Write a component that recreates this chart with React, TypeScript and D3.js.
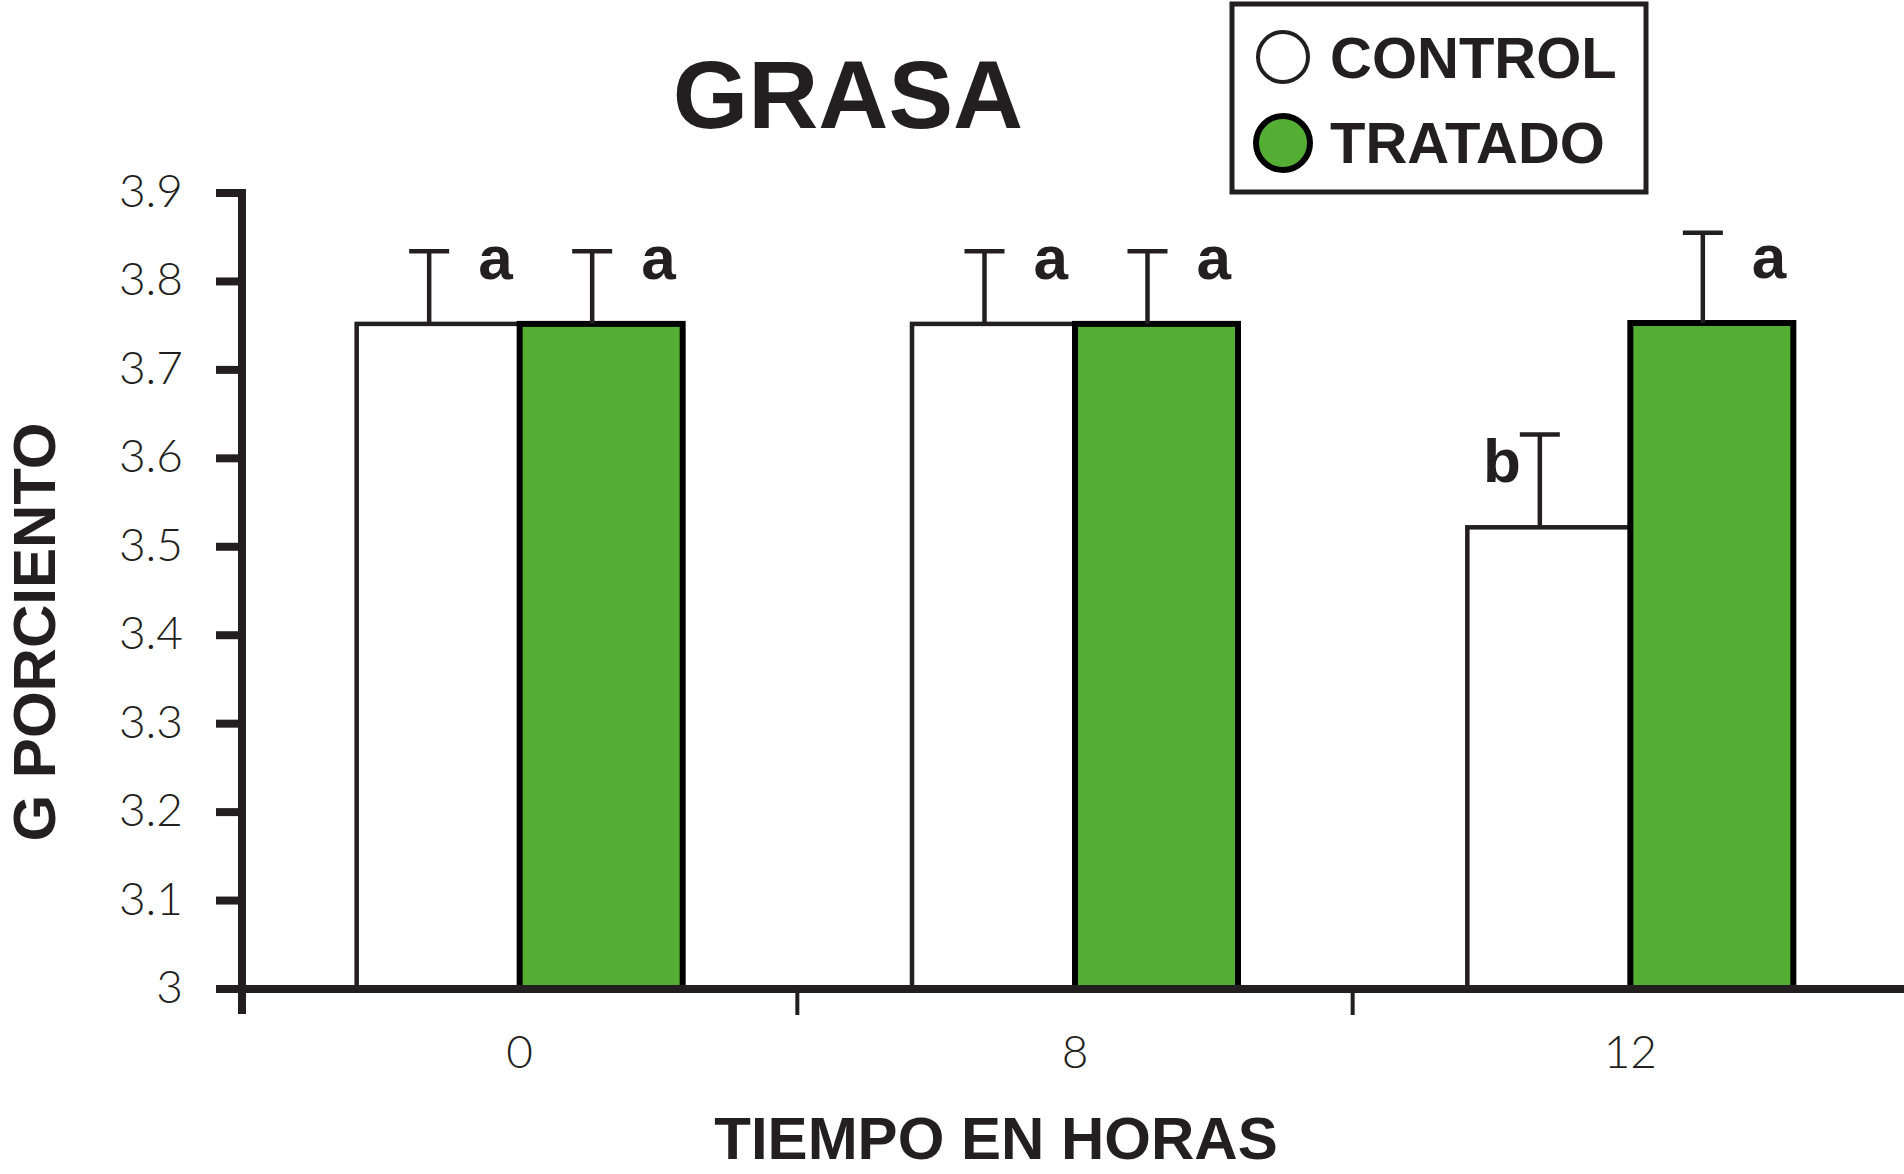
import React from "react";
import * as d3 from "d3";

const hours = ["0", "8", "12"];
const series = ["CONTROL", "TRATADO"];
const controlValues = [3.752, 3.752, 3.522];
const treatedValues = [3.752, 3.752, 3.753];
const controlErrors = [0.082, 0.082, 0.105];
const treatedErrors = [0.082, 0.082, 0.102];
const controlLetters = ["a", "a", "b"];
const treatedLetters = ["a", "a", "a"];
const yTicks = [3, 3.1, 3.2, 3.3, 3.4, 3.5, 3.6, 3.7, 3.8, 3.9];

const W = 1904;
const H = 1174;
const INK = "#231f20";
const GREEN = "#53ae33";
const BOLD = "'Liberation Sans', Arial, Helvetica, sans-serif";
const LIGHT = "Lato, 'Open Sans', sans-serif";

export default function App() {
  const axisX = 242;
  const y = d3.scaleLinear().domain([3, 3.9]).range([989, 193]);
  const x = d3.scaleBand<string>().domain(hours).range([axisX, 1908]);
  const inner = d3.scaleBand<string>().domain(series).range([0, 326]);

  const bars: any[] = [];
  hours.forEach((h, i) => {
    const groupStart = (x(h) as number) + x.bandwidth() / 2 - 163;
    [
      { s: series[0], v: controlValues[i], e: controlErrors[i], l: controlLetters[i] },
      { s: series[1], v: treatedValues[i], e: treatedErrors[i], l: treatedLetters[i] },
    ].forEach((d) => {
      bars.push({ ...d, h, x0: groupStart + (inner(d.s) as number), w: inner.bandwidth() });
    });
  });

  const seps = hours.slice(1).map((h) => x(h) as number);

  return (
    <svg
      width={W}
      height={H}
      style={{ position: "absolute", left: 0, top: 0, background: "#fff" }}
    >
      {/* Title */}
      <text x={848} y={128} textAnchor="middle" fontFamily={BOLD} fontWeight="bold" fontSize={97} fill={INK}>
        GRASA
      </text>

      {/* Legend */}
      <rect x={1232} y={4} width={414} height={188} fill="#fff" stroke={INK} strokeWidth={5} />
      <circle cx={1283} cy={57} r={25} fill="#fff" stroke={INK} strokeWidth={4} />
      <text x={1330} y={78} fontFamily={BOLD} fontWeight="bold" fontSize={58} fill={INK}>
        {series[0]}
      </text>
      <circle cx={1283} cy={143} r={27} fill={GREEN} stroke="#000" strokeWidth={6} />
      <text x={1330} y={163} fontFamily={BOLD} fontWeight="bold" fontSize={58} fill={INK}>
        {series[1]}
      </text>

      {/* Bars */}
      {bars.map((b, i) => {
        const treated = b.s === series[1];
        const sw = treated ? 6 : 4.5;
        return (
          <rect
            key={"bar" + i}
            x={b.x0}
            y={y(b.v)}
            width={b.w}
            height={y(3) - y(b.v)}
            fill={treated ? GREEN : "#fff"}
            stroke={treated ? "#000" : INK}
            strokeWidth={sw}
          />
        );
      })}

      {/* Error bars and letters */}
      {bars.map((b, i) => {
        const ex = b.x0 + b.w / 2 - 9;
        const top = y(b.v + b.e);
        const left = b.l === "b";
        return (
          <g key={"err" + i}>
            <line x1={ex} x2={ex} y1={y(b.v)} y2={top} stroke={INK} strokeWidth={4.5} />
            <line x1={ex - 20} x2={ex + 20} y1={top} y2={top} stroke={INK} strokeWidth={4.5} />
            <text
              x={left ? ex - 19 : ex + 49}
              y={y(b.v) - 45}
              textAnchor={left ? "end" : "start"}
              fontFamily={BOLD}
              fontWeight="bold"
              fontSize={62}
              fill={INK}
            >
              {b.l}
            </text>
          </g>
        );
      })}

      {/* Y axis */}
      <line x1={axisX} x2={axisX} y1={189} y2={1014} stroke={INK} strokeWidth={8} />
      {yTicks.map((t) => (
        <g key={"yt" + t}>
          <line x1={216} x2={axisX} y1={y(t)} y2={y(t)} stroke={INK} strokeWidth={8} />
          <text
            x={183}
            y={y(t) + 14}
            textAnchor="end"
            fontFamily={LIGHT}
            fontWeight={300}
            fontSize={46}
            fill={INK}
          >
            {d3.format("")(t)}
          </text>
        </g>
      ))}

      {/* X axis */}
      <line x1={218} x2={W} y1={989} y2={989} stroke={INK} strokeWidth={8} />
      {seps.map((s, i) => (
        <line key={"xt" + i} x1={s} x2={s} y1={985} y2={1015} stroke={INK} strokeWidth={4} />
      ))}
      {hours.map((h) => (
        <text
          key={"xl" + h}
          x={(x(h) as number) + x.bandwidth() / 2}
          y={1068}
          textAnchor="middle"
          fontFamily={LIGHT}
          fontWeight={300}
          fontSize={46}
          fill={INK}
        >
          {h}
        </text>
      ))}

      {/* Axis titles */}
      <text x={996} y={1159} textAnchor="middle" fontFamily={BOLD} fontWeight="bold" fontSize={60} fill={INK}>
        TIEMPO EN HORAS
      </text>
      <text
        transform={`translate(55,632) rotate(-90)`}
        textAnchor="middle"
        fontFamily={BOLD}
        fontWeight="bold"
        fontSize={60}
        fill={INK}
      >
        G PORCIENTO
      </text>
    </svg>
  );
}
